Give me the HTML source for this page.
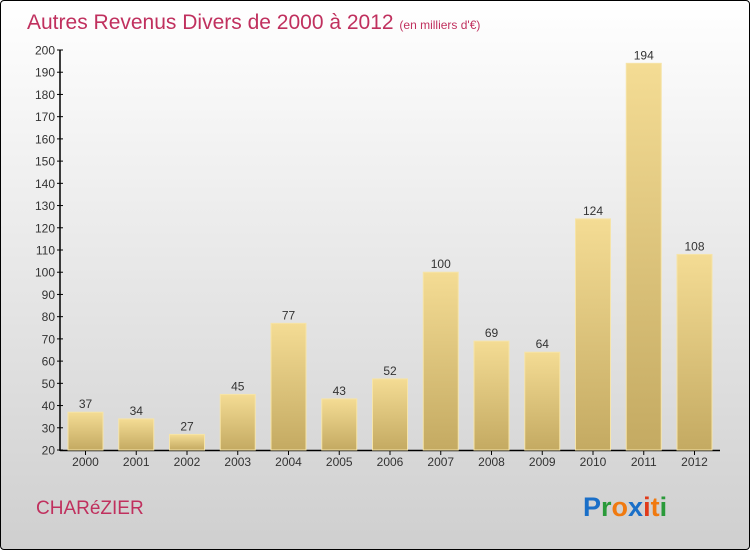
<!DOCTYPE html>
<html><head><meta charset="utf-8"><style>
body{margin:0;width:750px;height:550px;overflow:hidden;font-family:"Liberation Sans",sans-serif}
#wrap{position:absolute;left:0;top:0;width:748px;height:548px;border:1px solid #000;border-radius:4px;background:linear-gradient(#ffffff,#cfcfcf)}
</style></head><body>
<div id="wrap">
<svg width="750" height="550" style="position:absolute;left:-1px;top:-1px">
<defs><linearGradient id="bg" x1="0" y1="0" x2="0" y2="1"><stop offset="0" stop-color="#f4dc94"/><stop offset="1" stop-color="#c4aa62"/></linearGradient></defs>
<text x="27" y="29" font-size="21" fill="#c0305e">Autres Revenus Divers de 2000 à 2012 <tspan font-size="12">(en milliers d'€)</tspan></text>
<g id="axes"></g><g id="bars"></g>
<text x="36" y="514" font-size="19" fill="#c0305e">CHARéZIER</text>
<text x="583" y="516" font-size="27" font-weight="bold"><tspan fill="#1a6fc8">P</tspan><tspan fill="#2a9a3a">r</tspan><tspan fill="#f07a10">o</tspan><tspan fill="#1a6fc8">x</tspan><tspan fill="#e03a1a">i</tspan><tspan fill="#f07a10">t</tspan><tspan fill="#2a9a3a">i</tspan></text>
</svg></div>
<script>
const years=["2000","2001","2002","2003","2004","2005","2006","2007","2008","2009","2010","2011","2012"];
const values=[37,34,27,45,77,43,52,100,69,64,124,194,108];
const yTicks=[20,30,40,50,60,70,80,90,100,110,120,130,140,150,160,170,180,190,200];
const NS="http://www.w3.org/2000/svg";
const y=v=>450-(v-20)*400/180;
const x=i=>85.5+i*50.75;
function mk(t,a,p){const e=document.createElementNS(NS,t);for(const k in a)e.setAttribute(k,a[k]);p.appendChild(e);return e;}
const ax=document.getElementById('axes'),bg=document.getElementById('bars');
let l=mk('line',{x1:60,y1:50,x2:60,y2:451,stroke:'#000','stroke-width':1.5},ax);


l=mk('line',{x1:60,y1:450.5,x2:720,y2:450.5,stroke:'#000','stroke-width':1.5},ax);


yTicks.forEach(v=>{
 mk('line',{x1:57,x2:63,y1:y(v),y2:y(v),stroke:'#000'},ax);
 const t=mk('text',{x:55,y:y(v)+4.5,'font-size':12,'text-anchor':'end',fill:'#333'},ax);t.textContent=v;
 
 
});
years.forEach((yr,i)=>{
 const v=values[i];
 const r=mk('rect',{x:x(i)-17.5,y:y(v),width:35,height:450-y(v),fill:'url(#bg)',stroke:'#f6e4a8','stroke-width':1},bg);
 
 
 const t=mk('text',{x:x(i),y:y(v)-4,'font-size':12,'text-anchor':'middle',fill:'#333'},bg);t.textContent=v;
 
 
 mk('line',{x1:x(i),x2:x(i),y1:450,y2:455,stroke:'#000'},ax);
 const xl=mk('text',{x:x(i),y:466,'font-size':12,'text-anchor':'middle',fill:'#333'},ax);xl.textContent=yr;
 
 
});
</script>
</body></html>
